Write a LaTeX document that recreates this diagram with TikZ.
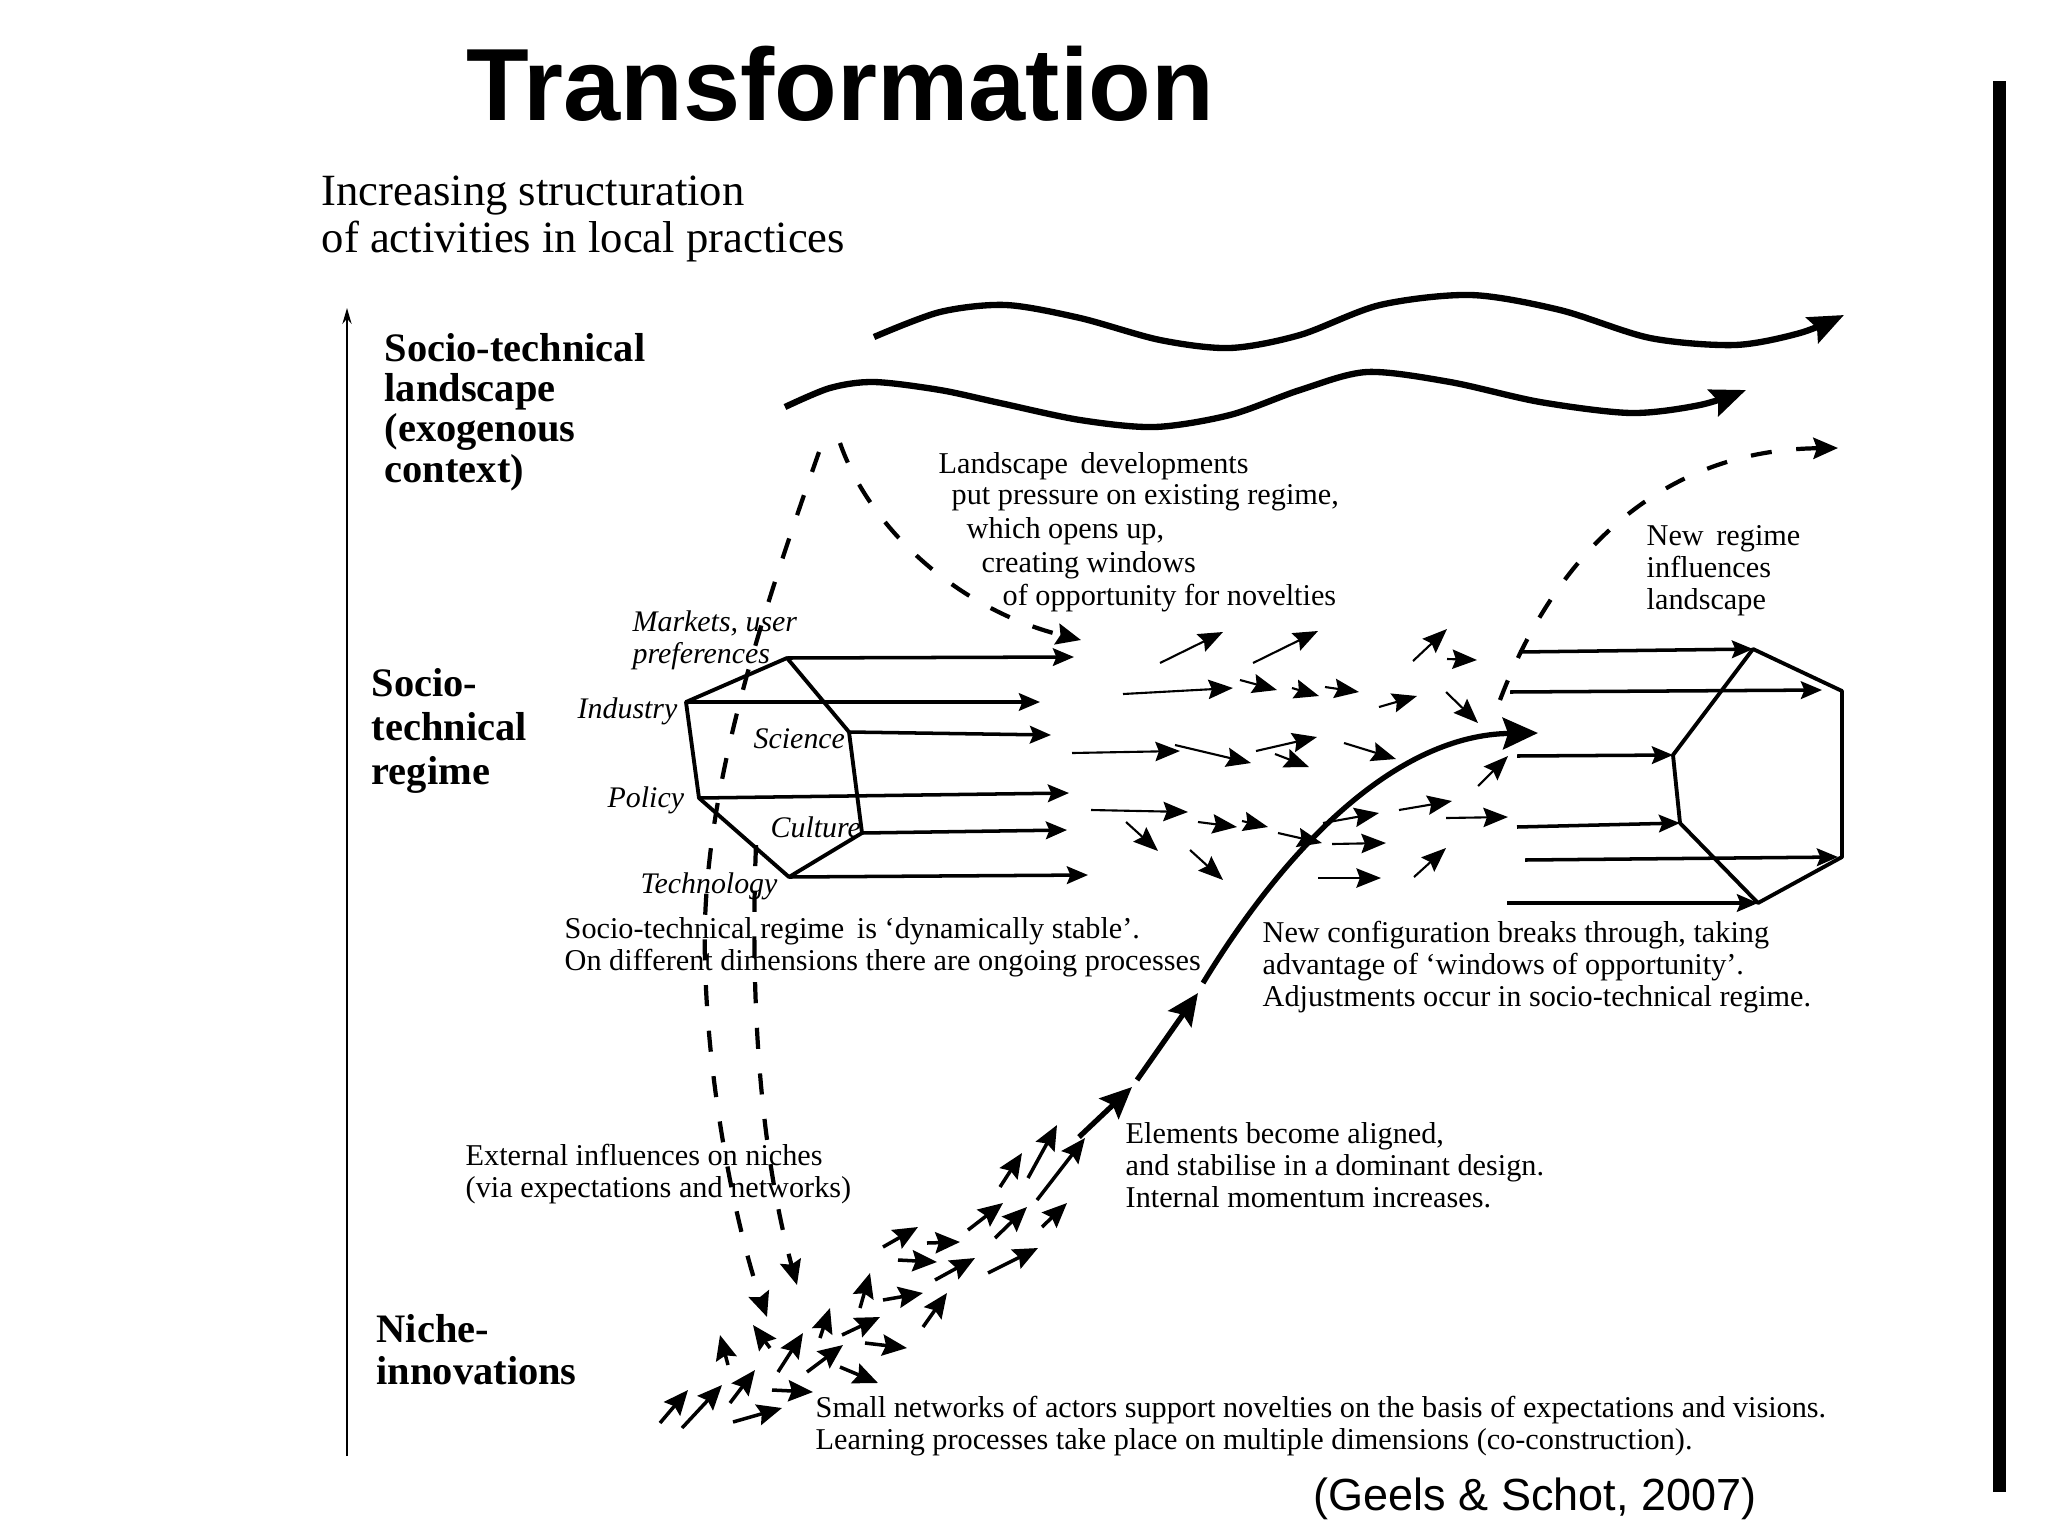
\documentclass[tikz,border=0pt]{standalone}
\usepackage{fontspec}
\setmainfont{Liberation Serif}
\newfontfamily\headfont{Liberation Sans}
\usetikzlibrary{arrows.meta}

\tikzset{
  body/.style={anchor=base west, inner sep=0pt, align=left, font=\fontsize{8.6}{9.1}\selectfont},
  tier/.style={anchor=base west, inner sep=0pt, align=left, font=\bfseries\fontsize{11.5}{11.4}\selectfont},
  dimension/.style={anchor=base west, inner sep=0pt, align=left, font=\itshape\fontsize{8.5}{9}\selectfont},
  wave/.style={line width=1.8pt, -{Stealth[length=10pt,width=8pt,inset=1.5pt]}},
  flow/.style={line width=1pt, -{Stealth[length=6pt,width=5pt,inset=1pt]}},
  nudge/.style={line width=0.6pt, -{Stealth[length=7pt,width=5.5pt,inset=1pt]}},
  seed/.style={line width=1pt, -{Stealth[length=7pt,width=6pt,inset=1pt]}},
  surge/.style={line width=1.5pt, -{Stealth[length=9pt,width=8pt,inset=1.5pt]}},
  influence/.style={line width=1.2pt, dash pattern=on 6pt off 7pt, -{Stealth[length=7pt,width=6pt,inset=1pt]}},
  hexa/.style={line width=1.1pt, line join=round}
}

\begin{document}
\begin{tikzpicture}[x=0.01cm, y=-0.01cm]
\useasboundingbox (0,0) rectangle (2048,1536);

% title, source and slide bar
\node[anchor=base west, inner sep=0pt, font=\headfont\bfseries\fontsize{29.2}{31}\selectfont] (title) at (466,120) {Transformation};
\node[anchor=base west, inner sep=0pt, font=\headfont\fontsize{12.8}{14}\selectfont] (source) at (1313,1510) {(Geels \& Schot, 2007)};
\fill (1993,81) rectangle (2006,1492);

% vertical axis (multi-line nodes sit on their last baseline)
\node[anchor=base west, inner sep=0pt, align=left, font=\fontsize{12.7}{13.1}\selectfont] (axis) at (321,252) {Increasing structuration\\of activities in local practices};
\coordinate (axbot) at (347,1456);
\coordinate (axtop) at (347,308);
\draw[line width=0.55pt, -{Stealth[length=4.5pt,width=2.6pt]}] (axbot) -- (axtop);

\node[tier] (land) at (384,482) {Socio-technical\\landscape\\(exogenous\\context)};
\node[tier, font=\bfseries\fontsize{11.5}{12.5}\selectfont] (regime) at (371,784) {Socio-\\technical\\regime};
\node[tier, font=\bfseries\fontsize{11.5}{11.7}\selectfont] (niche) at (376,1384) {Niche-\\innovations};

% landscape
\draw[wave] plot[smooth] coordinates {(874,337) (940,312) (1006,305) (1080,318) (1160,340) (1230,348) (1300,335) (1380,305) (1471,295) (1560,310) (1650,338) (1735,345) (1800,333) (1844,315)};
\draw[wave] plot[smooth] coordinates {(785,407) (830,388) (874,382) (940,390) (1000,403) (1080,420) (1155,427) (1230,415) (1300,390) (1367,372) (1450,382) (1540,402) (1631,413) (1700,405) (1746,390)};

\node[body] (press1) at (938,473) {Landscape\, developments};
\node[body] (press2) at (951,504) {put pressure on existing regime,};
\node[body] (press3) at (966,538) {which opens up,};
\node[body] (press4) at (981,572) {creating windows};
\node[body] (press5) at (1002,605) {of opportunity for novelties};
\node[body] (newreg) at (1646,609) {New\, regime\\influences\\landscape};

% old regime
\coordinate (lt) at (787,658);
\coordinate (li) at (686,702);
\coordinate (lp) at (699,798);
\coordinate (lb) at (789,877);
\coordinate (lc) at (862,833);
\coordinate (ls) at (849,732);
\draw[hexa] (lt) -- (li) -- (lp) -- (lb) -- (lc) -- (ls) -- cycle;
\draw[flow] (lt) -- (1074,657);
\draw[flow] (li) -- (1040,702);
\draw[flow] (ls) -- (1051,735);
\draw[flow] (lp) -- (1069,793);
\draw[flow] (lc) -- (1067,830);
\draw[flow] (lb) -- (1088,875);

\node[dimension] (markets) at (632,663) {Markets, user\\preferences};
\node[dimension] (industry) at (577,718) {Industry};
\node[dimension] (science) at (753,748) {Science};
\node[dimension] (policy) at (607,807) {Policy};
\node[dimension] (culture) at (770,837) {Culture};
\node[dimension] (techno) at (640,893) {Technology};

\node[body] (stable) at (564,970) {Socio-technical regime\, is `dynamically stable'.\\On different dimensions there are ongoing processes};

% new regime
\coordinate (rt) at (1753,649);
\coordinate (rr) at (1842,691);
\coordinate (rq) at (1842,857);
\coordinate (rb) at (1758,903);
\coordinate (rl) at (1680,823);
\coordinate (rk) at (1673,755);
\draw[hexa] (rt) -- (rr) -- (rq) -- (rb) -- (rl) -- (rk) -- cycle;
\draw[flow] (1519,652) -- (rt);
\draw[flow] (1510,692) -- (1822,690);
\draw[flow] (1517,756) -- (rk);
\draw[flow] (1517,827) -- (rl);
\draw[flow] (1525,860) -- (1838,857);
\draw[flow] (1507,903) -- (rb);

\node[body] (breaks) at (1262,1006) {New configuration breaks through, taking\\advantage of `windows of opportunity'.\\Adjustments occur in socio-technical regime.};

% dashed influences
\draw[influence] (819,452) .. controls (760,620) and (700,800) .. (705,960) .. controls (708,1100) and (740,1240) .. (767,1317);
\draw[influence] (756,845) .. controls (750,1000) and (760,1150) .. (797,1285);
\draw[influence] (840,443) .. controls (870,530) and (960,610) .. (1081,640);
\draw[influence] (1500,700) .. controls (1555,555) and (1660,450) .. (1838,448);

% unsettled regime dimensions
\foreach \xa/\ya/\xb/\yb in {1160/663/1223/632, 1253/663/1318/631, 1413/661/1447/629, 1447/659/1477/660,
  1123/694/1233/688, 1240/680/1277/690, 1292/688/1319/696, 1325/687/1359/692, 1379/707/1417/696, 1446/692/1478/723,
  1072/753/1180/751, 1175/745/1251/763, 1256/751/1317/737, 1275/754/1309/767, 1344/743/1396/759, 1478/786/1508/756,
  1091/810/1188/812, 1126/822/1158/851, 1198/822/1237/827, 1242/821/1268/827, 1278/833/1322/843, 1323/823/1379/813,
  1332/844/1386/843, 1399/810/1452/801, 1446/818/1508/817, 1190/850/1223/880, 1318/878/1381/878, 1414/877/1446/848}
  \draw[nudge] (\xa,\ya) -- (\xb,\yb);

% niche activity
\foreach \xa/\ya/\xb/\yb in {660/1423/688/1390, 682/1428/722/1385, 730/1403/755/1370, 733/1422/782/1408, 772/1390/813/1392,
  728/1365/720/1335, 770/1348/753/1325, 778/1372/803/1333, 807/1372/843/1345, 840/1367/878/1383, 820/1338/830/1308,
  842/1335/880/1317, 865/1343/907/1348, 860/1308/870/1273, 883/1300/923/1293, 923/1327/947/1293, 883/1247/918/1227,
  927/1243/960/1242, 898/1260/937/1262, 935/1280/975/1258, 988/1273/1038/1248, 968/1230/1003/1203, 995/1238/1027/1207,
  1042/1227/1067/1203, 1000/1187/1022/1153, 1028/1178/1057/1125, 1037/1200/1085/1138}
  \draw[seed] (\xa,\ya) -- (\xb,\yb);

% breakthrough
\coordinate (b0) at (1079,1137);
\coordinate (b1) at (1132,1087);
\coordinate (b2) at (1137,1080);
\coordinate (b3) at (1198,993);
\coordinate (b4) at (1203,983);
\coordinate (b5) at (1538,733);
\draw[surge] (b0) -- (b1);
\draw[surge] (b2) -- (b3);
\draw[surge, -{Stealth[length=10pt,width=9pt,inset=1.5pt]}] (b4) .. controls (1290,840) and (1400,735) .. (b5);

\node[body] (aligned) at (1125,1207) {Elements become aligned,\\and stabilise in a dominant design.\\Internal momentum increases.};
\node[body] (external) at (465,1197) {External influences on niches\\(via expectations and networks)};
\node[body] (small) at (815,1449) {Small networks of actors support novelties on the basis of expectations and visions.\\Learning processes take place on multiple dimensions (co-construction).};
\end{tikzpicture}
\end{document}
